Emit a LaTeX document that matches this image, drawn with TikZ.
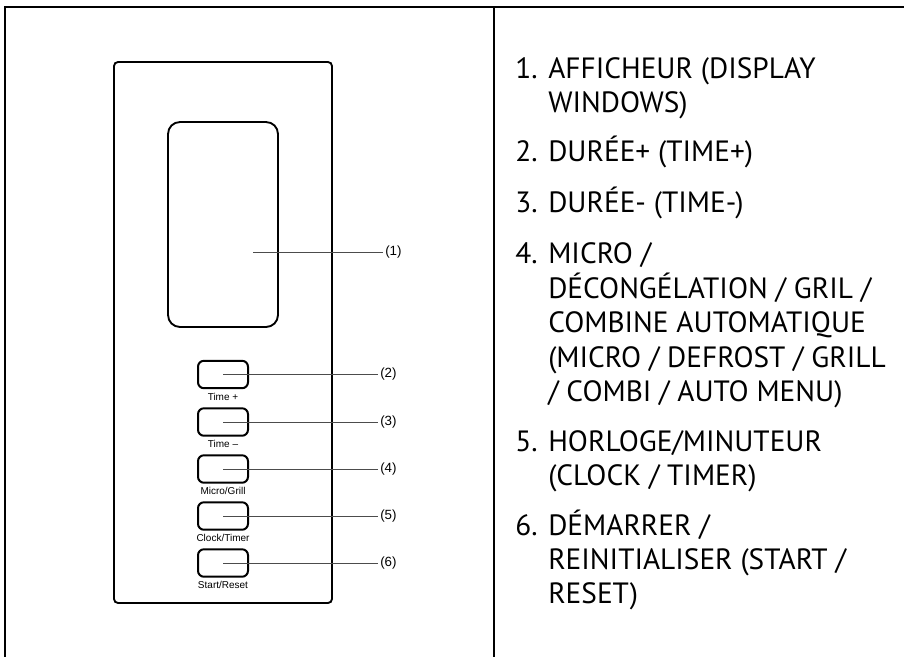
\documentclass[tikz,border=0pt]{standalone}
\usepackage{fontspec}
\setmainfont{PT Sans}
\newfontfamily\panelfont{Liberation Sans}
\usetikzlibrary{positioning}
\newcommand\itemlines[1]{\begin{tabular}[t]{@{}l@{}}#1\end{tabular}}
\tikzset{
  frame/.style={line width=0.8pt},
  panel/.style={draw, line width=1.4pt, rounded corners=3pt},
  screen/.style={draw, line width=1.4pt, rounded corners=9pt, minimum width=82.5pt, minimum height=153.75pt},
  keybox/.style={draw, line width=1.5pt, rounded corners=4.5pt, minimum width=37.5pt, minimum height=20.6pt, inner sep=0pt},
  keyname/.style={font=\panelfont\fontsize{7.5pt}{8pt}\selectfont, inner sep=1pt},
  callout/.style={draw=black!70, line width=0.6pt},
  tag/.style={font=\panelfont\fontsize{10pt}{11pt}\selectfont, inner sep=1.5pt, anchor=west},
  itemno/.style={anchor=base west, inner sep=0pt, font=\fontsize{22pt}{25.65pt}\selectfont},
  itemtext/.style={anchor=base west, inner sep=0pt, font=\fontsize{22pt}{25.65pt}\selectfont}
}
\begin{document}
\begin{tikzpicture}[x=0.75pt, y=-0.75pt]
\useasboundingbox (0,0) rectangle (904,657);
% table lines
\draw[frame] (5,657) -- (5,7) -- (904,7);
\draw[frame] (494,7) -- (494,657);

% control panel
\draw[panel] (114,62) rectangle (332,603);
\node[screen] (disp) at (223,224.5) {};
\coordinate (d1) at (253,252);
\node[tag] (t1) at (383,252) {(1)};
\draw[callout] (d1) -- (t1.west);

\foreach \n/\y/\name in {2/374.5/Time +, 3/422/Time –, 4/469/{Micro/Grill}, 5/516/{Clock/Timer}, 6/563/{Start/Reset}}{
  \node[keybox] (b\n) at (223,\y) {};
  \node[keyname, below=1.5pt of b\n] (k\n) {\name};
  \node[tag] (t\n) at (378,\y) {(\n)};
  \draw[callout] (b\n.center) -- (t\n.west);
}

% legend
\node[itemno] (n1) at (515,78.3) {1.};
\node[itemtext] (i1) at (548,78.3) {\itemlines{AFFICHEUR (DISPLAY\\WINDOWS)}};
\node[itemno] (n2) at (515,161.8) {2.};
\node[itemtext] (i2) at (548,161.8) {DURÉE+ (TIME+)};
\node[itemno] (n3) at (515,212.5) {3.};
\node[itemtext] (i3) at (548,212.5) {DURÉE- (TIME-)};
\node[itemno] (n4) at (515,263) {4.};
\node[itemtext] (i4) at (548,263) {\itemlines{MICRO /\\DÉCONGÉLATION / GRIL /\\COMBINE AUTOMATIQUE\\(MICRO / DEFROST / GRILL\\/ COMBI / AUTO MENU)}};
\node[itemno] (n5) at (515,451.7) {5.};
\node[itemtext] (i5) at (548,451.7) {\itemlines{HORLOGE/MINUTEUR\\(CLOCK / TIMER)}};
\node[itemno] (n6) at (515,535) {6.};
\node[itemtext] (i6) at (548,535) {\itemlines{DÉMARRER /\\REINITIALISER (START /\\RESET)}};
\end{tikzpicture}
\end{document}
